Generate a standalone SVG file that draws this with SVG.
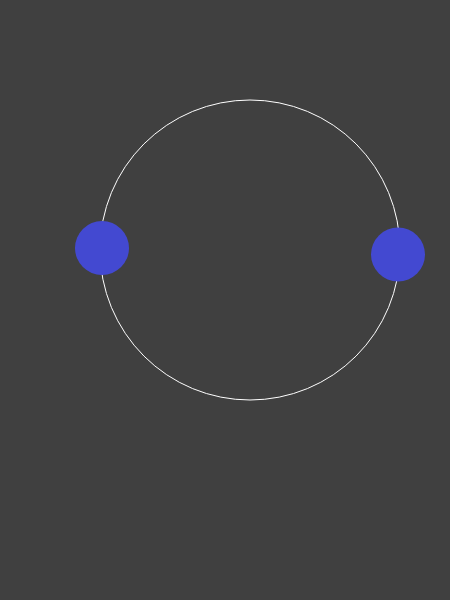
<svg xmlns="http://www.w3.org/2000/svg" width="450" height="600" viewBox="0 0 450 600">
<style>
.ring{fill:none;stroke:#ffffff;stroke-width:1}
.dot{fill:#4349d1}
</style>
<rect width="450" height="600" fill="#404040"/>
<g id="connectors">
<circle class="ring" cx="250" cy="250" r="150"/>
</g>
<g id="node-left"><circle class="dot" cx="102" cy="248" r="27"/></g>
<g id="node-right"><circle class="dot" cx="398" cy="254.5" r="27"/></g>
</svg>
